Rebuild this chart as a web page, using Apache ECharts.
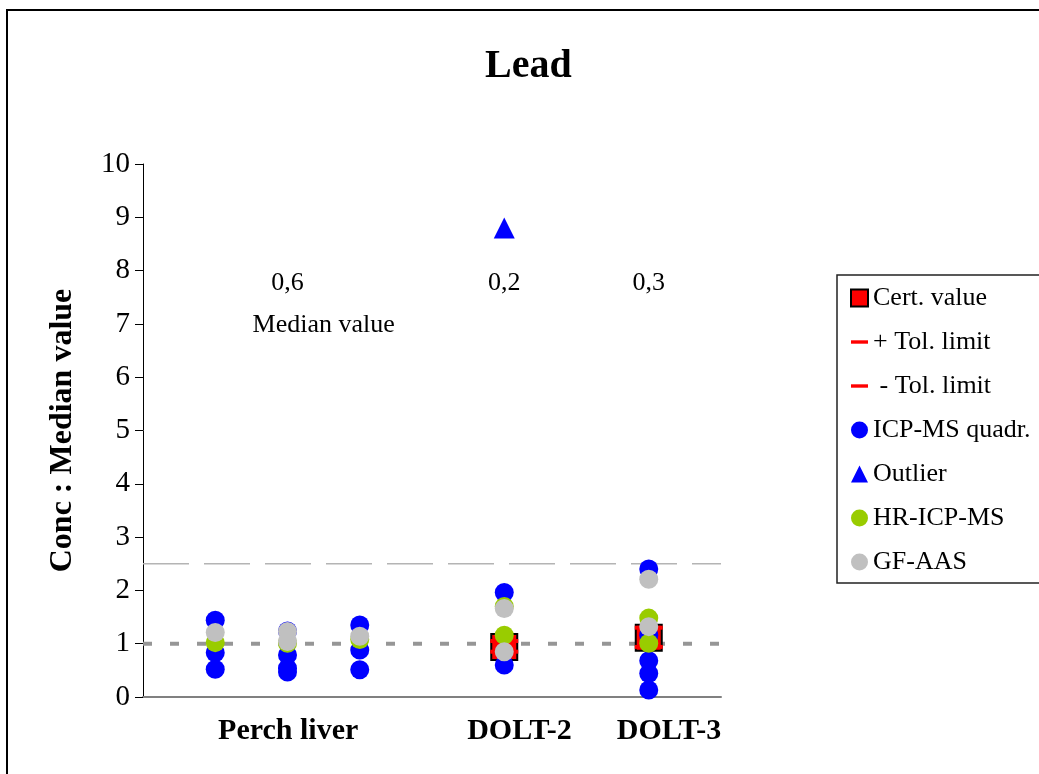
<!DOCTYPE html>
<html><head><meta charset="utf-8">
<script src="https://cdn.jsdelivr.net/npm/echarts@6/dist/echarts.min.js"></script>
<style>html,body{margin:0;padding:0;background:#fff}#c{width:1039px;height:774px}</style>
</head><body><div id="c"></div>
<script>
// ---- data ----
const titleText = 'Lead';
const yAxisTitle = 'Conc : Median value';
const xLabelNames = ['Perch liver', 'DOLT-2', 'DOLT-3'];
const xLabelPos = [2.01, 5.21, 7.28];

const certX = [5, 7];
const certVal = [0.94, 1.11];
const tolPlusX = [5, 7];
const tolPlusVal = [1.05, 1.30];
const tolMinusX = [5, 7];
const tolMinusVal = [0.85, 0.94];

const icpX =   [1, 1, 1, 2, 2, 2, 2, 3, 3, 3, 5, 5, 7, 7, 7, 7, 7];
const icpVal = [1.44, 0.83, 0.52, 1.24, 0.79, 0.54, 0.47, 1.35, 0.88, 0.51, 1.96, 0.60, 2.40, 1.16, 0.68, 0.44, 0.13];
const outlierX = [5];
const outlierVal = [8.80];
const hrX =   [1, 2, 3, 5, 5, 7, 7];
const hrVal = [1.02, 1.01, 1.08, 1.70, 1.16, 1.48, 1.01];
const gfX =   [1, 2, 2, 3, 5, 5, 7, 7];
const gfVal = [1.21, 1.23, 1.04, 1.14, 1.66, 0.85, 2.21, 1.32];

const medianX = [2, 5, 7];
const medianY = [7.77, 7.77, 7.77];
const medianText = ['0,6', '0,2', '0,3'];
const captionText = 'Median value';
const captionX = 2.5;
const captionY = 6.98;

const upperRef = 2.5;
const unityRef = 1.0;
const xMin = 0, xMax = 8;
const yMin = 0, yMax = 10, yStep = 1;

// ---- chart ----
const FONT = "'Liberation Serif','Times New Roman',serif";
const zip = (xs, ys) => xs.map((x, i) => [x, ys[i]]);
const dashIcon = 'path://M0,0M20,20M0,8H20V12H0Z';

const dotSeries = (name, xs, ys, color, symbol, size, extra) => Object.assign({
  name, type: 'scatter', data: zip(xs, ys), symbol, symbolSize: size,
  itemStyle: { color, opacity: 1 }, emphasis: { disabled: true }, silent: true
}, extra || {});

const annot = medianX.map((x, i) => ({ value: [x, medianY[i]], name: medianText[i] }));
annot.push({ value: [captionX, captionY], name: captionText });

const option = {
  backgroundColor: '#fff',
  animation: false,
  title: {
    text: titleText, left: 485, top: 47, padding: 0,
    textStyle: { fontFamily: FONT, fontSize: 40, fontWeight: 'bold', color: '#000' }
  },
  grid: { left: 143, right: 318, top: 164, bottom: 77 },
  xAxis: {
    type: 'value', min: xMin, max: xMax, interval: 1,
    axisLine: { show: true, lineStyle: { color: '#808080', width: 2 } },
    axisTick: { show: false },
    splitLine: { show: false },
    axisLabel: {
      customValues: xLabelPos,
      formatter: v => { const i = xLabelPos.findIndex(p => Math.abs(p - v) < 1e-6); return i >= 0 ? xLabelNames[i] : ''; },
      margin: 19, fontFamily: FONT, fontSize: 30, fontWeight: 'bold', color: '#000'
    }
  },
  yAxis: {
    type: 'value', min: yMin, max: yMax, interval: yStep,
    name: yAxisTitle, nameLocation: 'middle', nameGap: 64,
    nameTextStyle: { fontFamily: FONT, fontSize: 32, fontWeight: 'bold', color: '#000' },
    axisLine: { show: true, lineStyle: { color: '#000', width: 1 } },
    axisTick: { show: true, length: 8, inside: false, lineStyle: { color: '#000' } },
    splitLine: { show: false },
    axisLabel: { margin: 13, fontFamily: FONT, fontSize: 29, color: '#000' }
  },
  legend: {
    orient: 'vertical', left: 837, top: 275,
    padding: [10, 20, 8, 13],
    itemWidth: 17, itemHeight: 17, itemGap: 18,
    borderColor: '#222', borderWidth: 1.5, backgroundColor: '#fff',
    selectedMode: false,
    textStyle: { fontFamily: FONT, fontSize: 26, color: '#000' },
    data: [
      { name: 'Cert. value', icon: 'rect' },
      { name: '+ Tol. limit', icon: dashIcon },
      { name: ' - Tol. limit', icon: dashIcon },
      { name: 'ICP-MS quadr.', icon: 'circle' },
      { name: 'Outlier', icon: 'triangle' },
      { name: 'HR-ICP-MS', icon: 'circle' },
      { name: 'GF-AAS', icon: 'circle' }
    ]
  },
  graphic: [{
    type: 'rect', silent: true, z: -10,
    shape: { x: 7, y: 10, width: 1100, height: 800 },
    style: { fill: 'none', stroke: '#000', lineWidth: 2 }
  }],
  series: [
    { name: 'upperRef', type: 'line', data: [[xMin, upperRef], [xMax, upperRef]], symbol: 'none', silent: true, z: 1,
      lineStyle: { color: '#b4b4b4', width: 1.5, type: [46, 15] } },
    { name: 'unityRef', type: 'line', data: [[xMin, unityRef], [xMax, unityRef]], symbol: 'none', silent: true, z: 1,
      lineStyle: { color: '#969696', width: 4, type: [9, 18] } },
    dotSeries('Cert. value', certX, certVal, '#ff0000', 'rect', 26, { itemStyle: { color: '#ff0000', borderColor: '#000', borderWidth: 2, opacity: 1 }, z: 2 }),
    dotSeries('+ Tol. limit', tolPlusX, tolPlusVal, '#ff0000', 'rect', [28, 4], { z: 3 }),
    dotSeries(' - Tol. limit', tolMinusX, tolMinusVal, '#ff0000', 'rect', [28, 4], { z: 3 }),
    dotSeries('ICP-MS quadr.', icpX, icpVal, '#0000ff', 'circle', 19, { z: 4 }),
    dotSeries('Outlier', outlierX, outlierVal, '#0000ff', 'triangle', 21, { z: 5 }),
    dotSeries('HR-ICP-MS', hrX, hrVal, '#99cc00', 'circle', 19, { z: 6 }),
    dotSeries('GF-AAS', gfX, gfVal, '#c0c0c0', 'circle', 19, { z: 7 }),
    { name: 'annotations', type: 'scatter', data: annot, symbolSize: 0, silent: true, z: 8,
      itemStyle: { opacity: 1 }, emphasis: { disabled: true },
      label: { show: true, position: 'inside', formatter: '{b}', fontFamily: FONT, fontSize: 26, color: '#000', opacity: 1, textBorderWidth: 0 } }
  ]
};

const chart = echarts.init(document.getElementById('c'), null, { renderer: 'canvas' });
chart.setOption(option);
</script>
</body></html>
